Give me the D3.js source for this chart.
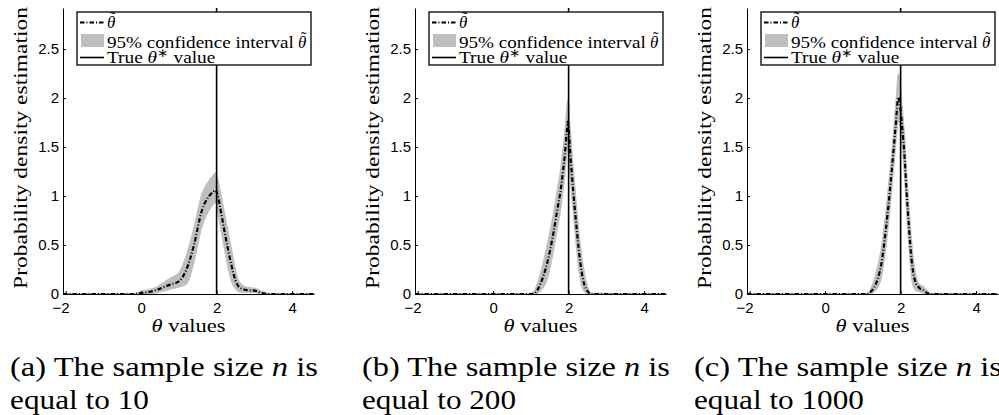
<!DOCTYPE html>
<html>
<head>
<meta charset="utf-8">
<script src="https://cdn.jsdelivr.net/npm/d3@7/dist/d3.min.js"></script>
<style>
  html, body { margin: 0; padding: 0; background: #fff; }
  svg { display: block; }
</style>
</head>
<body>
<svg id="chart" width="999" height="415"></svg>
<script>
// ---------------- DATA ----------------
const xTicks = [-2, 0, 2, 4];
const yTicks = [0, 0.5, 1, 1.5, 2, 2.5];
const trueTheta = 2;
const captionLetters = ["a", "b", "c"];
const sampleSizes = [10, 200, 1000];

// panel (a) n = 10
const xA    = [-2.07, -0.2, 0.0, 0.2, 0.4, 0.6, 0.8, 1.0, 1.2, 1.4, 1.6, 1.8, 1.9, 1.97, 2.05, 2.1, 2.2, 2.3, 2.4, 2.5, 2.6, 2.8, 3.0, 3.2, 3.4, 4.58];
const meanA = [0, 0, 0.01, 0.02, 0.04, 0.07, 0.10, 0.13, 0.25, 0.50, 0.84, 1.00, 1.04, 1.06, 0.97, 0.87, 0.66, 0.46, 0.28, 0.14, 0.07, 0.04, 0.035, 0.01, 0, 0];
const loA   = [0, 0, 0, 0, 0.01, 0.03, 0.05, 0.07, 0.10, 0.32, 0.67, 0.85, 0.91, 0.93, 0.80, 0.69, 0.47, 0.27, 0.12, 0.05, 0.02, 0.015, 0.015, 0, 0, 0];
const hiA   = [0, 0.005, 0.03, 0.045, 0.07, 0.12, 0.17, 0.22, 0.40, 0.68, 1.01, 1.16, 1.21, 1.24, 1.14, 1.05, 0.85, 0.65, 0.45, 0.25, 0.13, 0.07, 0.06, 0.03, 0.005, 0];

// panel (b) n = 200
const xB    = [-2.07, 1.0, 1.1, 1.2, 1.3, 1.4, 1.5, 1.6, 1.7, 1.8, 1.85, 1.9, 1.95, 1.98, 2.05, 2.12, 2.2, 2.29, 2.4, 2.5, 2.6, 4.58];
const meanB = [0, 0, 0.01, 0.06, 0.15, 0.27, 0.43, 0.63, 0.86, 1.09, 1.25, 1.42, 1.65, 1.76, 1.40, 1.06, 0.72, 0.38, 0.12, 0.03, 0, 0];
const loB   = [0, 0, 0, 0.01, 0.05, 0.11, 0.25, 0.44, 0.66, 0.89, 1.04, 1.20, 1.42, 1.52, 1.15, 0.83, 0.50, 0.19, 0.03, 0, 0, 0];
const hiB   = [0, 0, 0.04, 0.14, 0.28, 0.45, 0.63, 0.83, 1.07, 1.31, 1.48, 1.66, 1.90, 1.99, 1.65, 1.30, 0.95, 0.58, 0.26, 0.08, 0.01, 0];

// panel (c) n = 1000
const xC    = [-2.07, 1.1, 1.2, 1.3, 1.4, 1.5, 1.6, 1.7, 1.8, 1.87, 1.94, 2.04, 2.11, 2.16, 2.22, 2.29, 2.38, 2.5, 2.6, 2.7, 2.8, 4.58];
const meanC = [0, 0, 0.02, 0.07, 0.16, 0.33, 0.63, 0.99, 1.41, 1.72, 2.01, 1.71, 1.37, 1.03, 0.69, 0.35, 0.14, 0.06, 0.04, 0.01, 0, 0];
const loC   = [0, 0, 0, 0.02, 0.07, 0.18, 0.44, 0.79, 1.21, 1.52, 1.76, 1.50, 1.15, 0.81, 0.48, 0.16, 0.04, 0.02, 0.01, 0, 0, 0];
const hiC   = [0, 0, 0.05, 0.15, 0.30, 0.50, 0.82, 1.19, 1.61, 1.93, 2.25, 1.92, 1.59, 1.25, 0.90, 0.55, 0.25, 0.10, 0.08, 0.04, 0.005, 0];

const panels = [
  { x: xA, mean: meanA, lo: loA, hi: hiA },
  { x: xB, mean: meanB, lo: loB, hi: hiB },
  { x: xC, mean: meanC, lo: loC, hi: hiC }
];

// ---------------- LAYOUT / STYLE ----------------
const panelLeft = [63, 415, 747];
const panelW = 251;
const yTop = 8, yBottom = 294;
const xDomain = [-2.07, 4.58];
const yDomain = [0, 2.92];
const SERIF = "Liberation Serif";
const SANS = "Liberation Sans";
const BAND = "#bfbfbf";

const svg = d3.select("#chart");

// text placed at (x,y), optionally rotated, later stretched horizontally to a target width
function placeText(parent, x, y, size, rot) {
  const t = parent.append("text").attr("x", 0).attr("y", 0)
    .attr("font-family", SERIF).attr("font-size", size);
  t.node().__pos = { x, y, rot: rot || 0 };
  t.attr("transform", `translate(${x},${y}) rotate(${rot || 0})`);
  return t;
}
function stretchTo(t, w) {
  const p = t.node().__pos;
  const w0 = t.node().getComputedTextLength();
  const k = w0 > 0 ? w / w0 : 1;
  t.attr("transform", `translate(${p.x},${p.y}) rotate(${p.rot}) scale(${k},1)`);
}

// italic theta with a tilde drawn above it
function thetaTilde(parent, x, y, size) {
  parent.append("text").attr("x", x).attr("y", y)
    .attr("font-family", SERIF).attr("font-size", size).attr("font-style", "italic")
    .text("θ");
  parent.append("text").attr("x", x + size * 0.33).attr("y", y - size * 0.28)
    .attr("text-anchor", "middle")
    .attr("font-family", SERIF).attr("font-size", size * 0.95)
    .text("˜");
}

panels.forEach((p, i) => {
  const g = svg.append("g").attr("transform", `translate(${panelLeft[i]},0)`);
  const x = d3.scaleLinear().domain(xDomain).range([0, panelW]);
  const y = d3.scaleLinear().domain(yDomain).range([yBottom, yTop]);
  const rows = p.x.map((v, k) => ({ x: v, m: p.mean[k], lo: p.lo[k], hi: p.hi[k] }));

  // confidence band
  g.append("path")
    .datum(rows)
    .attr("fill", BAND)
    .attr("stroke", BAND)
    .attr("stroke-width", 1)
    .attr("d", d3.area().x(d => x(d.x)).y0(d => y(d.lo)).y1(d => y(d.hi)).curve(d3.curveMonotoneX));

  // mean estimate
  g.append("path")
    .datum(rows)
    .attr("fill", "none")
    .attr("stroke", "#000")
    .attr("stroke-width", 2.2)
    .attr("stroke-dasharray", "4.5,2,1,2")
    .attr("d", d3.line().x(d => x(d.x)).y(d => y(d.m)).curve(d3.curveMonotoneX));

  // true value
  g.append("line")
    .attr("x1", x(trueTheta)).attr("x2", x(trueTheta))
    .attr("y1", y(0)).attr("y2", y(yDomain[1]))
    .attr("stroke", "#000").attr("stroke-width", 1.6);

  // axes
  const xAxis = d3.axisBottom(x).tickValues(xTicks).tickSizeInner(-3).tickSizeOuter(0).tickPadding(8)
    .tickFormat(d => d < 0 ? "\u2212" + Math.abs(d) : String(d));
  const gx = g.append("g").attr("transform", `translate(0,${yBottom})`).call(xAxis);
  const yAxis = d3.axisLeft(y).tickValues(yTicks).tickSizeInner(-3).tickSizeOuter(0).tickPadding(4)
    .tickFormat(d => String(d));
  const gy = g.append("g").call(yAxis);
  [gx, gy].forEach(a => {
    a.attr("font-family", SANS).attr("font-size", 15);
    a.selectAll("text").attr("font-family", SANS).attr("font-size", 15).attr("fill", "#000");
    a.select(".domain").attr("stroke", "#000").attr("stroke-width", 1);
    a.selectAll(".tick line").attr("stroke", "#000");
  });
  gx.selectAll(".tick text").attr("dx", d => d < 0 ? -5 : 0);

  // axis titles
  const xl = placeText(g, panelW / 2, 332, 18.5).attr("text-anchor", "middle");
  xl.append("tspan").attr("font-style", "italic").text("θ");
  xl.append("tspan").text(" values");
  stretchTo(xl, 74);

  const yl = placeText(g, -36, 148, 19, -90).attr("text-anchor", "middle")
    .text("Probability density estimation");
  stretchTo(yl, 282);

  // legend
  const lw = 234, lh = 53;
  const lx = panelW - 3 - lw, ly = 12;
  const lg = g.append("g").attr("transform", `translate(${lx},${ly})`);
  lg.append("rect").attr("width", lw).attr("height", lh)
    .attr("fill", "#fff").attr("stroke", "#000").attr("stroke-width", 1.3);
  lg.append("line").attr("x1", 3).attr("x2", 27).attr("y1", 10.5).attr("y2", 10.5)
    .attr("stroke", "#000").attr("stroke-width", 2).attr("stroke-dasharray", "4.5,2,1,2");
  lg.append("rect").attr("x", 4).attr("y", 22).attr("width", 23).attr("height", 13).attr("fill", BAND);
  lg.append("line").attr("x1", 3).attr("x2", 27).attr("y1", 45.5).attr("y2", 45.5)
    .attr("stroke", "#000").attr("stroke-width", 1.6);

  thetaTilde(lg, 30, 16, 17);
  const t2 = placeText(lg, 30, 36, 17).text("95% confidence interval");
  stretchTo(t2, 187);
  thetaTilde(lg, 221, 36, 17);
  const t3 = placeText(lg, 30, 50.5, 17);
  t3.append("tspan").text("True ");
  t3.append("tspan").attr("font-style", "italic").text("θ");
  t3.append("tspan").attr("font-size", 12).attr("dy", -6).text("∗");
  t3.append("tspan").attr("dy", 6).text(" value");
  stretchTo(t3, 108);

  // caption
  const cx = -53;
  const c1 = placeText(g, cx, 376, 28);
  c1.append("tspan").text(`(${captionLetters[i]}) The sample size `);
  c1.append("tspan").attr("font-style", "italic").text("n");
  c1.append("tspan").text(" is");
  stretchTo(c1, 308);
  const c2 = placeText(g, cx, 409, 28).text(`equal to ${sampleSizes[i]}`);
  stretchTo(c2, [139, 154, 170][i]);
});
</script>
</body>
</html>
